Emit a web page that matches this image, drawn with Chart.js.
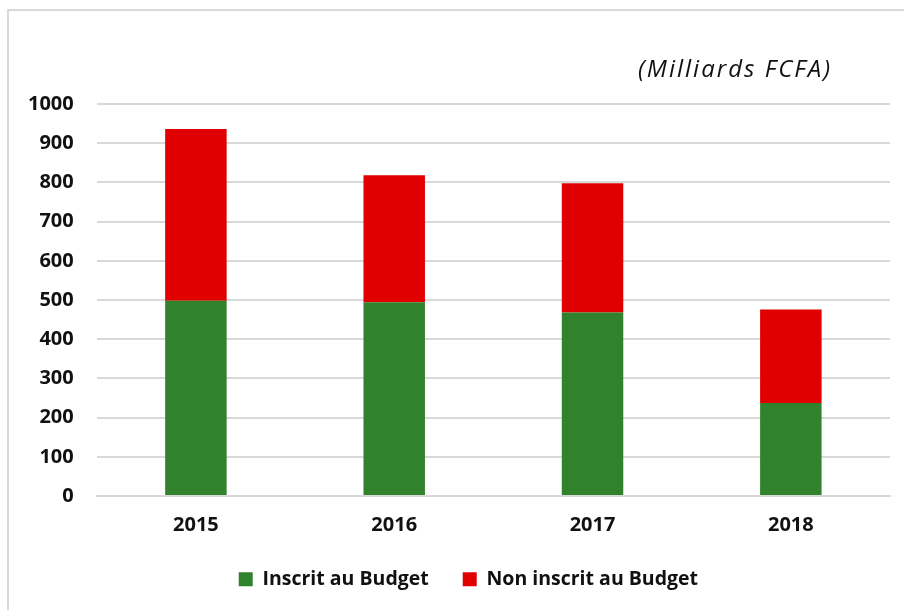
<!DOCTYPE html>
<html>
<head>
<meta charset="utf-8">
<script src="https://cdn.jsdelivr.net/npm/chart.js@4"></script>
<style>
  html, body { margin: 0; padding: 0; background: #fff; overflow: hidden; }
  #wrap { position: relative; width: 904px; height: 610px; }
  #frame { position: absolute; left: 7px; top: 9px; width: 920px; height: 640px; border: 2px solid #d9d9d9; box-sizing: border-box; }
  canvas { position: absolute; left: 0; top: 0; }
</style>
</head>
<body>
<div id="wrap">
  <div id="frame"></div>
  <canvas id="budgetChart" width="904" height="610"></canvas>
</div>
<script>
const years = ["2015", "2016", "2017", "2018"];
const inscrit = [498, 494, 468, 237];
const nonInscrit = [438, 324, 330, 239];
const yTicks = [0, 100, 200, 300, 400, 500, 600, 700, 800, 900, 1000];
const unitLabel = "(Milliards FCFA)";

const FONT = "'Open Sans', 'Liberation Sans', sans-serif";

// unit note drawn above the plot area, right side
const unitNote = {
  id: "unitNote",
  afterDraw(chart) {
    const ctx = chart.ctx;
    ctx.save();
    ctx.font = "italic 24px " + FONT;
    ctx.letterSpacing = "2px";
    ctx.fillStyle = "#111";
    ctx.textAlign = "right";
    ctx.textBaseline = "middle";
    ctx.fillText(unitLabel, 832, 70);
    ctx.restore();
  }
};

// center the legend under the plot area rather than the whole canvas
const legendUnderPlot = {
  id: "legendUnderPlot",
  afterLayout(chart) {
    chart.legend.left = chart.chartArea.left - 50;
  }
};

const ctx = document.getElementById("budgetChart").getContext("2d");
new Chart(ctx, {
  type: "bar",
  data: {
    labels: years,
    datasets: [
      {
        label: "Inscrit au Budget",
        data: inscrit,
        backgroundColor: "#31822c",
        categoryPercentage: 1,
        barPercentage: 0.31
      },
      {
        label: "Non inscrit au Budget",
        data: nonInscrit,
        backgroundColor: "#e00000",
        categoryPercentage: 1,
        barPercentage: 0.31
      }
    ]
  },
  options: {
    responsive: false,
    animation: false,
    layout: { padding: { left: 5, right: 14, top: 104, bottom: 11 } },
    plugins: {
      legend: {
        position: "bottom",
        labels: {
          boxWidth: 14,
          boxHeight: 14,
          padding: 34,
          color: "#111",
          font: { family: FONT, size: 19.5, weight: "bold" }
        }
      },
      tooltip: { enabled: false }
    },
    scales: {
      x: {
        stacked: true,
        grid: { display: false, drawTicks: false },
        border: { color: "#d9d9d9", width: 2 },
        ticks: {
          padding: 17,
          color: "#111",
          font: { family: FONT, size: 20, weight: "bold" }
        },
        afterFit(scale) {
          scale.height = 39.5;
        }
      },
      y: {
        stacked: true,
        min: 0,
        max: 1000,
        afterBuildTicks(scale) {
          scale.ticks = yTicks.map(v => ({ value: v }));
        },
        grid: { color: "#d9d9d9", lineWidth: 2, drawTicks: false },
        border: { display: false },
        ticks: {
          padding: 23,
          color: "#111",
          font: { family: FONT, size: 20, weight: "bold" },
          callback: v => String(v)
        }
      }
    }
  },
  plugins: [unitNote, legendUnderPlot]
});
</script>
</body>
</html>
